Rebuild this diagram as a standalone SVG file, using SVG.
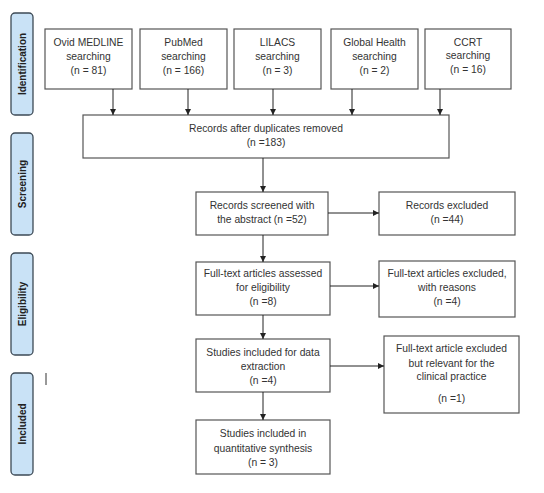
<svg xmlns="http://www.w3.org/2000/svg" width="544" height="493" viewBox="0 0 544 493">
<defs>
<marker id="ah" viewBox="0 0 10 10" refX="10" refY="5" markerWidth="6" markerHeight="6" orient="auto" markerUnits="userSpaceOnUse">
<path d="M0,0 L10,5 L0,10 z" fill="#222"/>
</marker>
<style>
.box{fill:#fff;stroke:#555;stroke-width:1.2}
.ph{fill:#c9e2f6;stroke:#3d4a55;stroke-width:1.3}
.t{font-family:"Liberation Sans",Arial,sans-serif;font-size:10.3px;fill:#333;text-anchor:middle}
.pt{font-family:"Liberation Sans",Arial,sans-serif;font-size:10px;font-weight:bold;fill:#222;text-anchor:middle}
.c{stroke:#222;stroke-width:1;fill:none;marker-end:url(#ah)}
</style>
</defs>
<rect width="544" height="493" fill="#fff"/>
<g id="phase-identification"><rect class="ph" x="11" y="13" width="22" height="102" rx="4"/><text class="pt" transform="translate(25.5,64) rotate(-90)">Identification</text></g>
<g id="phase-screening"><rect class="ph" x="11" y="133" width="22" height="102" rx="4"/><text class="pt" transform="translate(25.5,184) rotate(-90)">Screening</text></g>
<g id="phase-eligibility"><rect class="ph" x="11" y="253" width="22" height="102" rx="4"/><text class="pt" transform="translate(25.5,304) rotate(-90)">Eligibility</text></g>
<g id="phase-included"><rect class="ph" x="11" y="373" width="22" height="102" rx="4"/><text class="pt" transform="translate(25.5,424) rotate(-90)">Included</text></g>
<line x1="46" y1="373" x2="46" y2="385" stroke="#333" stroke-width="1"/>
<g id="ovid"><rect class="box" x="45" y="29" width="87" height="60"/><text class="t" x="88.5" y="46">Ovid MEDLINE</text><text class="t" x="88.5" y="60">searching</text><text class="t" x="88.5" y="74">(n = 81)</text></g>
<g id="pubmed"><rect class="box" x="140" y="29" width="87" height="60"/><text class="t" x="183.5" y="46">PubMed</text><text class="t" x="183.5" y="60">searching</text><text class="t" x="183.5" y="74">(n = 166)</text></g>
<g id="lilacs"><rect class="box" x="234" y="29" width="87" height="60"/><text class="t" x="277.5" y="46">LILACS</text><text class="t" x="277.5" y="60">searching</text><text class="t" x="277.5" y="74">(n = 3)</text></g>
<g id="globalhealth"><rect class="box" x="331" y="29" width="87" height="60"/><text class="t" x="374.5" y="46">Global Health</text><text class="t" x="374.5" y="60">searching</text><text class="t" x="374.5" y="74">(n = 2)</text></g>
<g id="ccrt"><rect class="box" x="425" y="29" width="86" height="60"/><text class="t" x="468" y="46">CCRT</text><text class="t" x="468" y="59">searching</text><text class="t" x="468" y="73">(n = 16)</text></g>
<g id="dedup"><rect class="box" x="83" y="115" width="366" height="43"/><text class="t" x="266" y="132">Records after duplicates removed</text><text class="t" x="266" y="146">(n =183)</text></g>
<g id="screened"><rect class="box" x="196" y="192" width="132" height="43"/><text class="t" x="262" y="209">Records screened with</text><text class="t" x="262" y="223">the abstract   (n =52)</text></g>
<g id="excluded"><rect class="box" x="379" y="192" width="136" height="43"/><text class="t" x="447" y="209">Records excluded</text><text class="t" x="447" y="223">(n =44)</text></g>
<g id="fulltext"><rect class="box" x="196" y="262" width="134" height="53"/><text class="t" x="263" y="277">Full-text articles assessed</text><text class="t" x="263" y="291">for eligibility</text><text class="t" x="263" y="305">(n =8)</text></g>
<g id="ftexcluded"><rect class="box" x="379" y="261" width="136" height="56"/><text class="t" x="447" y="277">Full-text articles excluded,</text><text class="t" x="447" y="291">with reasons</text><text class="t" x="447" y="305">(n =4)</text></g>
<g id="dataextraction"><rect class="box" x="196" y="339" width="134" height="53"/><text class="t" x="263" y="356">Studies included for data</text><text class="t" x="263" y="370">extraction</text><text class="t" x="263" y="384">(n =4)</text></g>
<g id="relevant"><rect class="box" x="384" y="336" width="135" height="77"/><text class="t" x="451.5" y="352">Full-text article excluded</text><text class="t" x="451.5" y="367">but relevant for the</text><text class="t" x="451.5" y="380">clinical practice</text><text class="t" x="451.5" y="402">(n =1)</text></g>
<g id="synthesis"><rect class="box" x="196" y="420" width="134" height="54"/><text class="t" x="263" y="437">Studies included in</text><text class="t" x="263" y="452">quantitative synthesis</text><text class="t" x="263" y="466">(n = 3)</text></g>
<g id="connectors">
<line class="c" x1="113" y1="89" x2="113" y2="115"/>
<line class="c" x1="188" y1="89" x2="188" y2="115"/>
<line class="c" x1="273" y1="89" x2="273" y2="115"/>
<line class="c" x1="352" y1="89" x2="352" y2="115"/>
<line class="c" x1="440" y1="89" x2="440" y2="115"/>
<line class="c" x1="263" y1="158" x2="263" y2="192"/>
<line class="c" x1="328" y1="213" x2="379" y2="213"/>
<line class="c" x1="263" y1="235" x2="263" y2="262"/>
<line class="c" x1="330" y1="286" x2="379" y2="286"/>
<line class="c" x1="263" y1="315" x2="263" y2="339"/>
<line class="c" x1="330" y1="366" x2="384" y2="366"/>
<line class="c" x1="263" y1="392" x2="263" y2="420"/>
</g>
</svg>
